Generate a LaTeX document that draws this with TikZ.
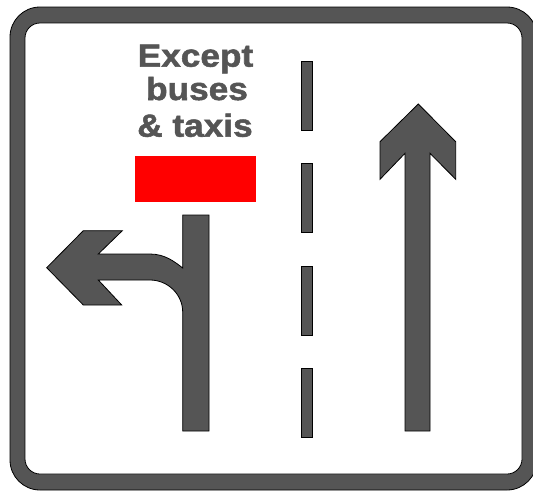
\documentclass[tikz,border=0pt]{standalone}
\usepackage{fontspec}
\newfontfamily\signfont{Liberation Sans}[BoldFeatures={FakeBold=1.6}]
\definecolor{signgrey}{HTML}{555555}
\definecolor{signred}{HTML}{FF0000}
\tikzset{
  roadsym/.style={fill=signgrey, draw=black, line width=0.8pt, line join=miter},
  dashbar/.style={fill=signgrey, draw=black, line width=0.8pt},
  legend/.style={font=\signfont\bfseries\fontsize{32}{32}\selectfont, text=signgrey, inner sep=0pt, anchor=base, xscale=1.1, transform shape}
}
\begin{document}
\begin{tikzpicture}[x=1pt, y=-1pt]
\useasboundingbox (0,0) rectangle (533,491);
\fill[white] (0,0) rectangle (533,491);
% frame
\filldraw[fill=signgrey, draw=black, line width=0.8pt, rounded corners=30pt] (10,7) rectangle (537,490);
\filldraw[fill=white, draw=black, line width=0.8pt, rounded corners=15pt] (25,23) rectangle (522,474);
% text
\node[legend] (l1) at (195.5,66.7) {Except};
\node[legend] (l2) at (197,100) {buses};
\node[legend] (l3) at (195,136.7) {\& taxis};
% red panel
\fill[signred] (135,156) rectangle (256,202);
\node[inner sep=0pt, minimum width=121pt, minimum height=46pt] (red) at (195.5,179) {};
% left turn arrow
\path[roadsym] (182.7,215) -- (209,215) -- (209,431) -- (182.7,431) -- (182.7,312)
  .. controls (182.7,294.3) and (167.7,280) .. (150,280)
  -- (98.3,280) -- (121.7,305) -- (83.3,305) -- (46.7,267.7) -- (83.3,230.7)
  -- (122.3,230.7) -- (98.3,254) -- (150,254)
  .. controls (165,254) and (175,262) .. (182.7,268) -- cycle;
% straight arrow
\path[roadsym] (405,431) -- (405,153.3) -- (380,179.3) -- (380,141.7) -- (418.3,104)
  -- (455.7,141.7) -- (455.7,179.3) -- (430,153.3) -- (430,431) -- cycle;
% lane dashes
\foreach \a/\b in {61.7/130.7, 163.3/232.7, 266/335, 368.3/437.3}{
  \path[dashbar] (301.7,\a) rectangle (312.7,\b);
}
\end{tikzpicture}
\end{document}
